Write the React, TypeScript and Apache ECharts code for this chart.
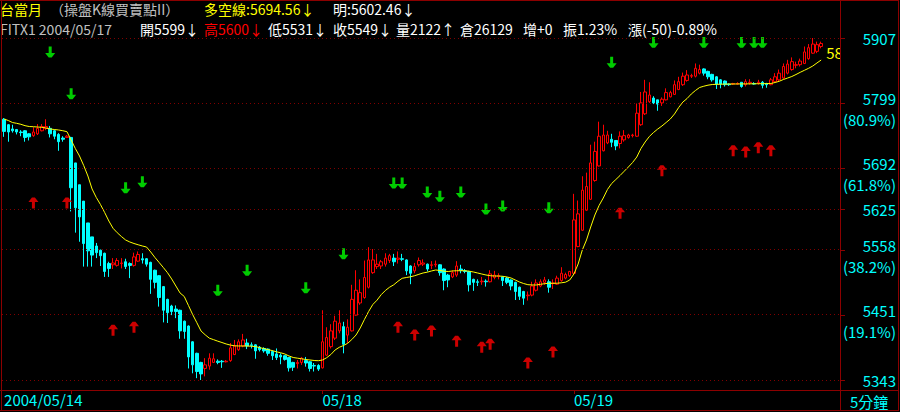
import React, { useEffect, useRef } from 'react';
import * as echarts from 'echarts';

// ---------- data: [open, close, low, high] per 5-minute bar ----------
const day14 = [
  [5773, 5753, 5744, 5775], [5764, 5752, 5736, 5765], [5757, 5754, 5751, 5764], [5756, 5752, 5748, 5757],
  [5752, 5751, 5745, 5755], [5754, 5743, 5736, 5755], [5749, 5744, 5738, 5750], [5746, 5752, 5744, 5760],
  [5749, 5758, 5747, 5765], [5754, 5761, 5753, 5765], [5758, 5761, 5755, 5773], [5758, 5749, 5743, 5762],
  [5754, 5745, 5740, 5756], [5748, 5736, 5721, 5750], [5742, 5740, 5736, 5745], [5743, 5745, 5742, 5747],
];
const day17 = [
  [5743, 5660, 5621, 5744], [5701, 5627, 5586, 5701], [5665, 5612, 5571, 5665], [5638, 5568, 5530, 5638],
  [5602, 5556, 5530, 5602], [5579, 5549, 5530, 5579], [5564, 5553, 5544, 5569], [5557, 5548, 5531, 5558],
  [5552, 5522, 5513, 5553], [5535, 5527, 5513, 5538], [5533, 5536, 5526, 5544], [5532, 5540, 5530, 5544],
  [5535, 5536, 5527, 5544], [5538, 5530, 5526, 5543], [5535, 5532, 5511, 5537], [5532, 5546, 5530, 5553],
  [5539, 5550, 5538, 5555], [5543, 5541, 5535, 5552], [5543, 5534, 5530, 5544], [5537, 5509, 5485, 5538],
  [5524, 5504, 5494, 5525], [5515, 5479, 5464, 5516], [5497, 5458, 5438, 5498], [5476, 5454, 5437, 5477],
  [5465, 5456, 5450, 5467], [5460, 5456, 5445, 5466], [5458, 5424, 5411, 5459], [5440, 5423, 5411, 5441],
  [5432, 5381, 5362, 5433], [5406, 5368, 5354, 5407], [5387, 5357, 5346, 5388], [5372, 5353, 5343, 5373],
  [5362, 5368, 5349, 5379], [5366, 5379, 5360, 5387], [5372, 5378, 5371, 5387], [5374, 5372, 5369, 5377],
  [5374, 5373, 5363, 5376], [5373, 5374, 5372, 5376], [5375, 5396, 5373, 5404], [5385, 5399, 5384, 5409],
  [5393, 5406, 5391, 5410], [5399, 5409, 5397, 5419], [5404, 5399, 5394, 5411], [5401, 5400, 5395, 5405],
  [5401, 5391, 5378, 5402], [5397, 5393, 5390, 5399], [5395, 5391, 5388, 5397], [5394, 5387, 5383, 5395],
  [5390, 5383, 5376, 5392], [5386, 5380, 5376, 5395], [5384, 5381, 5369, 5387], [5383, 5377, 5375, 5384],
  [5380, 5363, 5357, 5381], [5372, 5364, 5358, 5373], [5370, 5372, 5362, 5376], [5372, 5379, 5368, 5381],
  [5375, 5371, 5365, 5381], [5373, 5362, 5357, 5374], [5367, 5366, 5357, 5371], [5367, 5361, 5358, 5369],
];
const day18 = [
  [5363, 5406, 5362, 5458], [5384, 5413, 5383, 5430], [5398, 5424, 5395, 5435], [5412, 5440, 5409, 5449],
  [5424, 5437, 5420, 5458], [5431, 5402, 5387, 5439], [5417, 5430, 5404, 5443], [5424, 5476, 5423, 5500],
  [5450, 5491, 5449, 5524], [5470, 5487, 5467, 5509], [5479, 5512, 5477, 5540], [5496, 5541, 5494, 5562],
  [5520, 5541, 5518, 5559], [5530, 5534, 5526, 5551], [5531, 5538, 5526, 5541], [5534, 5544, 5530, 5552],
  [5540, 5548, 5536, 5551], [5544, 5538, 5531, 5551], [5542, 5544, 5535, 5555], [5543, 5542, 5539, 5551],
  [5541, 5523, 5516, 5542], [5531, 5519, 5501, 5532], [5523, 5530, 5519, 5536], [5533, 5540, 5530, 5545],
  [5534, 5536, 5531, 5542], [5534, 5526, 5522, 5535], [5532, 5533, 5526, 5539], [5533, 5534, 5529, 5540],
  [5533, 5520, 5515, 5534], [5526, 5507, 5491, 5527], [5516, 5508, 5496, 5518], [5513, 5520, 5511, 5524],
  [5516, 5531, 5513, 5539], [5526, 5524, 5519, 5533], [5523, 5522, 5519, 5526], [5522, 5500, 5489, 5523],
  [5509, 5504, 5490, 5510], [5505, 5504, 5498, 5509], [5505, 5506, 5500, 5513], [5506, 5505, 5497, 5509],
  [5505, 5518, 5504, 5524], [5512, 5516, 5509, 5523], [5514, 5515, 5509, 5519], [5513, 5507, 5498, 5514],
  [5511, 5504, 5501, 5513], [5508, 5498, 5491, 5509], [5504, 5489, 5475, 5505], [5496, 5481, 5475, 5497],
  [5489, 5478, 5467, 5490], [5482, 5483, 5474, 5489], [5483, 5498, 5481, 5505], [5491, 5503, 5489, 5509],
  [5498, 5505, 5496, 5509], [5504, 5508, 5500, 5513], [5505, 5496, 5487, 5509], [5502, 5503, 5493, 5509],
  [5501, 5511, 5500, 5515], [5507, 5519, 5505, 5529], [5511, 5517, 5509, 5520], [5515, 5522, 5513, 5523],
];
const day19 = [
  [5519, 5607, 5516, 5650], [5563, 5617, 5562, 5639], [5590, 5656, 5589, 5679], [5623, 5662, 5622, 5685],
  [5641, 5701, 5640, 5731], [5672, 5720, 5670, 5736], [5696, 5745, 5695, 5769], [5721, 5747, 5720, 5764],
  [5734, 5747, 5732, 5754], [5740, 5735, 5727, 5749], [5738, 5729, 5722, 5738], [5733, 5745, 5725, 5753],
  [5739, 5746, 5736, 5755], [5743, 5747, 5741, 5749], [5746, 5747, 5743, 5749], [5745, 5783, 5744, 5799],
  [5764, 5800, 5762, 5818], [5782, 5818, 5780, 5838], [5802, 5813, 5800, 5834], [5808, 5800, 5798, 5811],
  [5805, 5798, 5787, 5805], [5800, 5806, 5795, 5809], [5805, 5817, 5804, 5824], [5810, 5817, 5809, 5820],
  [5814, 5830, 5813, 5837], [5822, 5835, 5821, 5843], [5830, 5844, 5828, 5850], [5837, 5846, 5835, 5854],
  [5844, 5845, 5841, 5848], [5844, 5857, 5842, 5865], [5849, 5855, 5847, 5863], [5856, 5849, 5845, 5857],
  [5852, 5843, 5839, 5853], [5847, 5838, 5835, 5848], [5843, 5831, 5823, 5844], [5838, 5831, 5824, 5839],
  [5836, 5830, 5827, 5837], [5831, 5830, 5828, 5832], [5831, 5832, 5830, 5833], [5831, 5832, 5830, 5834],
  [5834, 5827, 5825, 5834], [5830, 5835, 5827, 5839], [5833, 5834, 5830, 5839], [5832, 5831, 5830, 5834],
  [5833, 5834, 5830, 5838], [5834, 5829, 5824, 5836], [5832, 5830, 5825, 5833], [5830, 5838, 5829, 5841],
  [5835, 5843, 5834, 5849], [5838, 5849, 5836, 5855], [5841, 5860, 5839, 5865], [5849, 5864, 5847, 5871],
  [5855, 5868, 5853, 5875], [5862, 5863, 5857, 5868], [5863, 5869, 5860, 5873], [5865, 5884, 5864, 5893],
  [5873, 5891, 5871, 5897], [5882, 5897, 5881, 5907], [5885, 5896, 5882, 5901], [5893, 5898, 5890, 5901],
];

// 多空線 (yellow line) read per bar
const ma14 = [5773.4, 5770.9, 5767.6, 5766.3, 5764.7, 5762.4, 5761.0, 5760.7, 5760.2, 5759.7, 5758.6, 5756.9, 5756.1, 5755.3, 5754.1, 5752.5];
const ma17 = [
  5738.8, 5724.8, 5712.4, 5696.7, 5679.4, 5658.0, 5644.0, 5632.4, 5619.2, 5605.2, 5593.2, 5585.9, 5579.6, 5573.9, 5570.6,
  5568.1, 5566.0, 5564.0, 5562.3, 5554.1, 5545.0, 5536.8, 5528.5, 5519.9, 5509.6, 5498.0, 5486.5, 5480.7, 5465.9, 5451.0,
  5437.5, 5423.8, 5417.5, 5411.9, 5409.5, 5407.0, 5404.8, 5402.4, 5400.6, 5399.4, 5399.1, 5399.1, 5399.1, 5398.7, 5398.1,
  5396.4, 5394.8, 5393.1, 5391.5, 5389.5, 5387.9, 5385.9, 5382.6, 5380.1, 5379.0, 5378.0, 5376.8, 5376.0, 5375.2, 5374.8,
];
const ma18 = [
  5376.0, 5379.8, 5385.1, 5392.5, 5396.9, 5399.9, 5403.5, 5409.8, 5417.2, 5428.8, 5442.8, 5456.0, 5467.5, 5474.6, 5483.7,
  5490.6, 5496.0, 5500.0, 5505.8, 5510.7, 5512.0, 5513.2, 5515.0, 5517.3, 5519.5, 5520.8, 5522.8, 5524.4, 5523.6, 5522.4,
  5521.9, 5522.8, 5523.2, 5523.2, 5523.2, 5522.4, 5521.1, 5519.5, 5517.8, 5516.2, 5515.0, 5514.5, 5514.5, 5514.0, 5512.9,
  5511.2, 5507.9, 5504.6, 5502.1, 5500.2, 5499.7, 5499.7, 5500.8, 5501.8, 5502.5, 5502.5, 5502.6, 5503.3, 5504.3, 5507.9,
];
const ma19 = [
  5517.8, 5534.3, 5557.4, 5573.9, 5595.3, 5615.1, 5630.8, 5643.1, 5657.2, 5667.0, 5673.6, 5680.2, 5687.3, 5694.3, 5701.7,
  5710.7, 5724.8, 5735.5, 5744.6, 5751.2, 5756.9, 5761.9, 5767.6, 5773.4, 5781.7, 5792.4, 5801.4, 5807.2, 5814.6, 5820.4,
  5825.4, 5827.5, 5829.2, 5830.3, 5830.6, 5830.8, 5831.0, 5831.1, 5831.1, 5831.2, 5831.3, 5831.3, 5831.4, 5831.5, 5831.6,
  5831.7, 5831.8, 5832.0, 5833.6, 5835.6, 5838.6, 5841.0, 5843.5, 5846.8, 5850.4, 5853.7, 5857.0, 5860.8, 5865.8, 5870.7,
];

// buy (red up) / sell (green down) signals: bar index and price
const buyIdx = [7, 15, 26, 31, 94, 98, 102, 108, 114, 116, 125, 131, 147, 157, 174, 177, 180, 183];
const buyVal = [5635, 5635, 5425, 5430, 5430, 5417, 5424, 5407, 5397, 5402, 5371, 5389, 5618, 5688, 5721, 5719, 5726, 5721];
const sellIdx = [11, 16, 29, 33, 51, 58, 72, 81, 93, 95, 101, 104, 109, 115, 119, 130, 145, 155, 167, 176, 179, 181];
const sellVal = [5884, 5815, 5660, 5670, 5491, 5524, 5495, 5551, 5668, 5668, 5653, 5646, 5653, 5625, 5630, 5627, 5867, 5900, 5900, 5900, 5900, 5900];

// price levels on the right scale
const fibLevels = [5907, 5799, 5692, 5625, 5558, 5451, 5343];
const fibPct = ['', '(80.9%)', '(61.8%)', '', '(38.2%)', '(19.1%)', ''];

const dayDates = ['2004/05/14', '2004/05/17', '2004/05/18', '2004/05/19'];
const dayFirstTime = ['12:30', '08:50', '08:50', '08:50'];
const xLabelText: Record<number, string> = { 0: '2004/05/14', 76: '05/18', 136: '05/19' };
const dayTicks = [16, 76, 136];
const emptySlots = 4;

const FRAME = '#8c0000';
const DOT = '#800000';
const CYAN = '#00ffff';
const FONT = '"Noto Sans CJK TC", "Noto Sans", sans-serif';

const days = [day14, day17, day18, day19];
const candles = [...day14, ...day17, ...day18, ...day19];
const ma = [...ma14, ...ma17, ...ma18, ...ma19];

function buildCategories() {
  const cats: string[] = [];
  days.forEach((d, di) => {
    const [hh, mm] = dayFirstTime[di].split(':').map(Number);
    let t = hh * 60 + mm;
    d.forEach(() => {
      const h = Math.floor(t / 60);
      const m = t % 60;
      cats.push(`${dayDates[di]} ${String(h).padStart(2, '0')}:${String(m).padStart(2, '0')}`);
      t += 5;
    });
  });
  for (let k = 0; k < emptySlots; k++) cats.push(`pad${k}`);
  return cats;
}

export default function App() {
  const ref = useRef<HTMLDivElement>(null);
  useEffect(() => {
    document.body.style.margin = '0';
    document.body.style.background = '#000';
    const chart = echarts.init(ref.current as HTMLDivElement, null, { renderer: 'svg' });
    const categories = buildCategories();
    const upArrow = 'path://M3.5,0 L6.5,0 L10,4.5 L6.5,4.5 L6.5,11 L3.5,11 L3.5,4.5 L0,4.5 Z';
    const downArrow = 'path://M3.5,0 L6.5,0 L6.5,6.5 L10,6.5 L6.5,11 L3.5,11 L0,6.5 L3.5,6.5 Z';
    chart.setOption({
      animation: false,
      backgroundColor: '#000',
      grid: { left: 2, right: 60, top: 38, bottom: 22 },
      xAxis: {
        type: 'category',
        data: categories,
        boundaryGap: true,
        axisLine: { show: true, lineStyle: { color: FRAME, width: 1 } },
        axisTick: {
          show: true,
          alignWithLabel: true,
          length: 4,
          interval: (i: number) => dayTicks.includes(i),
          lineStyle: { color: FRAME },
        },
        axisLabel: {
          show: true,
          interval: (i: number) => xLabelText[i] !== undefined,
          formatter: (_v: string, i: number) => xLabelText[i] || '',
          color: CYAN,
          fontSize: 15,
          fontFamily: FONT,
          align: 'left',
          margin: 2,
        },
        splitLine: { show: false },
      },
      yAxis: {
        type: 'value',
        min: 5326.5,
        max: 5907,
        show: false,
        splitLine: { show: false },
      },
      series: [
        {
          type: 'candlestick',
          data: candles,
          barWidth: 3,
          itemStyle: {
            color: '#000000',
            color0: '#00ffff',
            borderColor: '#ff0000',
            borderColor0: '#00ffff',
            borderWidth: 1,
          },
          markLine: {
            silent: true,
            symbol: ['none', 'none'],
            label: { show: false },
            lineStyle: { color: DOT, type: [1, 3], width: 1 },
            data: fibLevels.map((v) => ({ yAxis: v })),
          },
        },
        {
          type: 'line',
          data: ma,
          symbol: 'none',
          lineStyle: { color: '#ffff00', width: 1 },
          endLabel: {
            show: true,
            color: '#ffff00',
            fontSize: 15,
            fontFamily: FONT,
            distance: 5,
            offset: [0, -8],
            width: 19,
            overflow: 'truncate',
            ellipsis: '',
            formatter: (p: any) => Number(p.value).toFixed(2),
          },
        },
        {
          type: 'scatter',
          data: buyIdx.map((i, k) => [i, buyVal[k]]),
          symbol: upArrow,
          symbolSize: [10, 11],
          itemStyle: { color: '#ff0000' },
        },
        {
          type: 'scatter',
          data: sellIdx.map((i, k) => [i, sellVal[k]]),
          symbol: downArrow,
          symbolSize: [10, 11],
          itemStyle: { color: '#00ff00' },
        },
      ],
    });

    const py = (v: number) => chart.convertToPixel({ yAxisIndex: 0 }, v) as number;
    const txt = (text: string, x: number, y: number, fill: string, align = 'left', size = 15) => ({
      type: 'text',
      z: 60,
      x,
      y,
      style: {
        text,
        fill,
        fontSize: size,
        fontFamily: FONT,
        lineHeight: size + 1,
        align,
        textAlign: align,
        verticalAlign: 'middle',
        textVerticalAlign: 'middle',
      },
    });
    const ln = (x1: number, y1: number, x2: number, y2: number) => ({
      type: 'line',
      z: 60,
      shape: { x1, y1, x2, y2 },
      style: { stroke: FRAME, lineWidth: 1 },
    });
    const H = 14;
    const graphics: any[] = [
      { type: 'rect', z: 50, shape: { x: 841, y: 0, width: 59, height: 412 }, style: { fill: '#000' } },
      { type: 'rect', z: 50, shape: { x: 0, y: 0, width: 840, height: 37 }, style: { fill: '#000' } },
      // header line 1
      txt('台當月', 0, 9, '#ffff00', 'left', H),
      txt('（操盤K線買賣點II）', 50, 9, '#c0c0c0', 'left', H),
      txt('多空線:5694.56↓', 204, 9, '#ffff00', 'left', H),
      txt('明:5602.46↓', 333, 9, '#ffffff', 'left', H),
      // header line 2
      txt('FITX1 2004/05/17', 0, 29, '#c0c0c0', 'left', H),
      txt('開5599↓', 140, 29, '#ffffff', 'left', H),
      txt('高5600↓', 204, 29, '#ff0000', 'left', H),
      txt('低5531↓', 268, 29, '#ffffff', 'left', H),
      txt('收5549↓', 333, 29, '#ffffff', 'left', H),
      txt('量2122↑', 396, 29, '#ffffff', 'left', H),
      txt('倉26129', 460, 29, '#ffffff', 'left', H),
      txt('增+0', 523, 29, '#ffffff', 'left', H),
      txt('振1.23%', 563, 29, '#ffffff', 'left', H),
      txt('漲(-50)-0.89%', 628, 29, '#ffffff', 'left', H),
      // frame
      ln(0, 0.5, 899, 0.5),
      ln(1.5, 0, 1.5, 411),
      ln(898.5, 0, 898.5, 411),
      ln(0, 410.5, 899, 410.5),
      ln(0, 390.5, 899, 390.5),
      ln(840.5, 0, 840.5, 411),
      txt('5分鐘', 850, 401, CYAN),
    ];
    fibLevels.forEach((v, k) => {
      const y = Math.round(py(v)) + 0.5;
      graphics.push(ln(840, y, 845, y));
      if (fibPct[k]) {
        graphics.push(txt(String(v), 896, y - 5, CYAN, 'right'));
        graphics.push(txt(fibPct[k], 896, y + 16, CYAN, 'right'));
      } else {
        graphics.push(txt(String(v), 896, y, CYAN, 'right'));
      }
    });
    chart.setOption({ graphic: graphics });
    return () => chart.dispose();
  }, []);
  return (
    <div
      ref={ref}
      style={{ position: 'absolute', left: 0, top: 0, width: 900, height: 412, background: '#000' }}
    />
  );
}
